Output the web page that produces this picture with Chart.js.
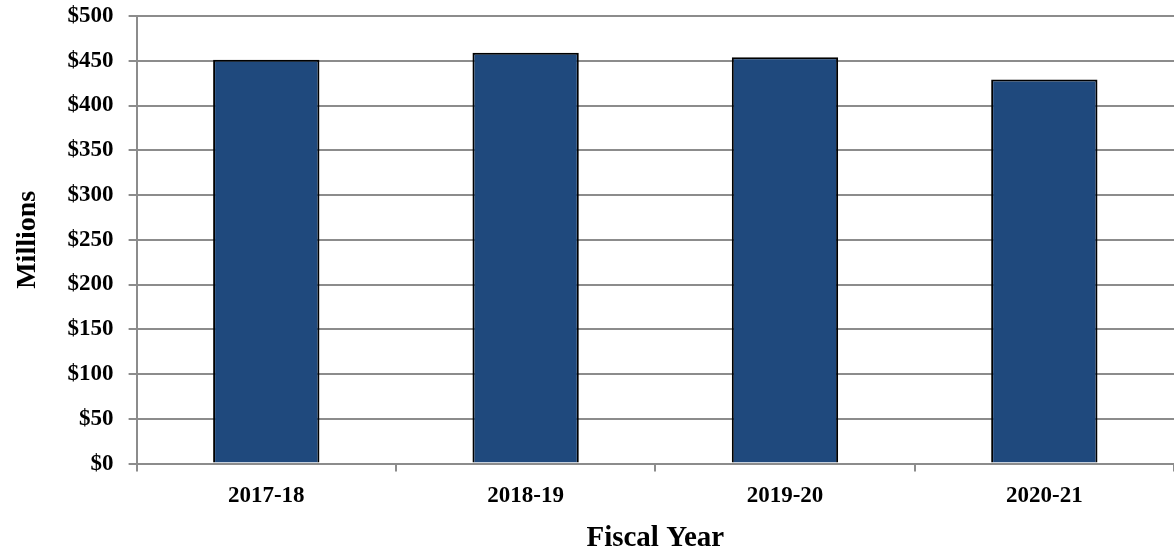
<!DOCTYPE html>
<html lang="en">
<head>
  <meta charset="UTF-8" />
  <title>Fiscal Year Spending</title>
  <script src="https://cdn.jsdelivr.net/npm/chart.js"></script>
  <style>
    html, body { margin: 0; padding: 0; background: #fff; }
    .wrap { width: 1174px; height: 552px; }
  </style>
</head>
<body>
  <div class="wrap"><canvas id="chart"></canvas></div>
  <script>
    // data
    const years = ['2017-18', '2018-19', '2019-20', '2020-21'];
    const amounts = [451, 459, 454, 429];
    const yTicks = [0, 50, 100, 150, 200, 250, 300, 350, 400, 450, 500];

    const serif = '"Liberation Serif", "DejaVu Serif", serif';
    const gridGray = '#8c8c8c';

    new Chart(document.getElementById('chart'), {
      type: 'bar',
      data: {
        labels: years,
        datasets: [{
          data: amounts,
          backgroundColor: '#1f497d',
          borderColor: '#000000',
          borderWidth: 2,
          barPercentage: 0.41,
          categoryPercentage: 1
        }]
      },
      options: {
        responsive: true,
        maintainAspectRatio: false,
        animation: false,
        layout: { padding: { top: 0, right: 0, bottom: -4, left: 11 } },
        plugins: { legend: { display: false }, tooltip: { enabled: false } },
        scales: {
          x: {
            grid: { drawOnChartArea: false, drawTicks: true, tickLength: 8, color: gridGray, lineWidth: 2 },
            border: { color: gridGray, width: 2 },
            ticks: { color: '#000', font: { family: serif, size: 23, weight: 'bold' }, padding: 11 },
            title: { display: true, text: 'Fiscal Year', color: '#000', font: { family: serif, size: 29, weight: 'bold' }, padding: { top: 0, bottom: 0 } }
          },
          y: {
            min: 0,
            max: 500,
            afterBuildTicks: axis => { axis.ticks = yTicks.map(v => ({ value: v })); },
            // keep the top label's overhang small so the plot starts near the top edge
            afterFit: axis => { axis.paddingTop = 16; },
            grid: { color: gridGray, lineWidth: 2, tickLength: 8 },
            border: { color: gridGray, width: 2 },
            ticks: {
              color: '#000',
              font: { family: serif, size: 23, weight: 'bold' },
              padding: 15,
              callback: v => '$' + v
            },
            title: { display: true, text: 'Millions', color: '#000', font: { family: serif, size: 28, weight: 'bold' }, padding: { top: 0, bottom: 8 } }
          }
        }
      }
    });
  </script>
</body>
</html>
